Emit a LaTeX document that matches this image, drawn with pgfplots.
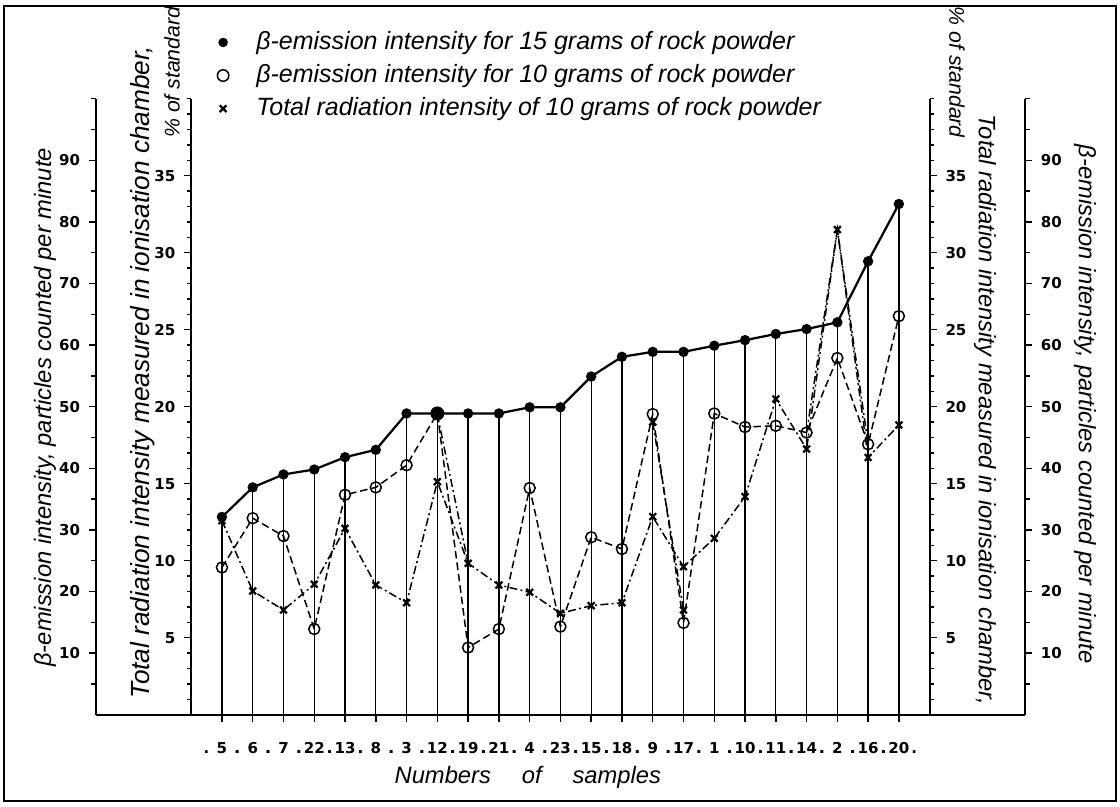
\documentclass[border=0pt]{standalone}
\usepackage{fontspec}
\setmainfont{Liberation Sans}
\newfontfamily\tickfont{DejaVu Sans}
\usepackage{pgfplots}
\pgfplotsset{compat=1.18}
\newcommand{\lab}{\itshape\fontsize{9.5}{11}\selectfont}
\newcommand{\tfont}{\tickfont\bfseries\fontsize{6}{7}\selectfont}
\newcommand{\tl}[1]{\makebox[0pt]{.}\hspace{6.15pt}\makebox[0pt]{#1}\hspace{6.15pt}\makebox[0pt]{.}}

% beta-emission, 15 g (particles/min)
\pgfplotstableread{
x y
0 32.1
1 36.9
2 39.0
3 39.8
4 41.8
5 43.0
6 48.9
7 48.9
8 48.9
9 48.9
10 49.9
11 49.9
12 54.9
13 58.1
14 58.9
15 58.9
16 59.9
17 60.8
18 61.8
19 62.6
20 63.7
21 73.6
22 82.9
}\betafifteen
% beta-emission, 10 g (particles/min)
\pgfplotstableread{
x y
0 23.9
1 31.9
2 29.0
3 13.9
4 35.7
5 36.9
6 40.5
7 48.9
8 10.9
9 13.9
10 36.8
11 14.3
12 28.8
13 26.9
14 48.8
15 14.9
16 48.9
17 46.7
18 46.9
19 45.8
20 57.9
21 43.9
22 64.7
}\betaten
% total radiation, 10 g (% of standard)
\pgfplotstableread{
x y
0 12.6
1 8.03
2 6.8
3 8.47
4 12.1
5 8.42
6 7.27
7 15.13
8 9.83
9 8.42
10 7.95
11 6.58
12 7.08
13 7.27
14 12.86
15 9.61
16 11.45
17 14.16
18 20.5
19 17.25
20 31.5
21 16.7
22 18.81
}\totalrad

\pgfplotsset{
  base/.style={scale only axis, height=246.4pt, ymin=0, clip=false,
    axis line style={line width=0.8pt},
    tick style={line width=0.6pt, black},
    tick align=outside,
    major tick length=2.8pt, minor tick length=1.8pt,
    tick label style={font=\tfont},
    /pgf/number format/assume math mode=true,
  },
  bfif/.style={black, line width=0.9pt, mark=*, mark size=1.6pt},
  bten/.style={black, line width=0.6pt, dash pattern=on 3pt off 1.6pt, mark=o, mark size=2.2pt, mark options={solid, fill=white, line width=0.6pt}},
  trad/.style={black, line width=0.6pt, dash pattern=on 3.2pt off 1.3pt on 0.8pt off 1.3pt, mark=x, mark size=1.9pt, mark options={solid, line width=0.9pt}},
}

\begin{document}
\begin{tikzpicture}
\path[use as bounding box] (-38.32pt,-36.92pt) rectangle (409.68pt,285.88pt);
\draw[line width=1pt] (-36.7pt,-34.5pt) rectangle (408.1pt,283.5pt);

% far-left beta axis, baseline, beta data
\begin{axis}[base, at={(0pt,0pt)}, anchor=south west, width=371.7pt,
  xmin=-4.1, xmax=26.1, ymax=100,
  axis x line*=bottom, axis y line*=left,
  xtick={0,...,22},
  xticklabels={\tl{5},\tl{6},\tl{7},\tl{22},\tl{13},\tl{8},\tl{3},\tl{12},\tl{19},\tl{21},\tl{4},\tl{23},\tl{15},\tl{18},\tl{9},\tl{17},\tl{1},\tl{10},\tl{11},\tl{14},\tl{2},\tl{16},\tl{20}},
  xticklabel style={anchor=base, yshift=-12.7pt},
  ytick={10,20,...,90}, minor ytick={5,15,...,95,100},
  legend cell align=left,
  legend style={draw=none, fill=none, at={(0.1303,1.118)}, anchor=north west,
    inner sep=0pt, row sep=0.5pt, font=\itshape\fontsize{10}{12}\selectfont,
    /tikz/every odd column/.append style={column sep=9pt}},
]
\addlegendimage{only marks, mark=*, mark size=1.7pt}
\addlegendentry{β-emission intensity for 15 grams of rock powder}
\addlegendimage{only marks, mark=o, mark size=2.3pt, mark options={line width=0.6pt}}
\addlegendentry{β-emission intensity for 10 grams of rock powder}
\addlegendimage{only marks, mark=x, mark size=1.9pt, mark options={line width=0.9pt}}
\addlegendentry{Total radiation intensity of 10 grams of rock powder}

\addplot[ycomb, black, line width=0.5pt, no marks, forget plot] table {\betafifteen};
\addplot[bfif, forget plot] table {\betafifteen};
\addplot[only marks, mark=*, mark size=2.6pt, black, forget plot] coordinates {(7,48.9)};
\addplot[bten, forget plot] table {\betaten};

\node[rotate=90, font=\lab] at (axis cs:-5.75,49.9) {β-emission intensity, particles counted per minute};
\node[rotate=90, font=\itshape\fontsize{10.5}{12}\selectfont] at (axis cs:-2.57,55.6) {Total radiation intensity measured in ionisation chamber,};
\node[rotate=90, font=\itshape\fontsize{8.5}{10}\selectfont] at (axis cs:-1.62,104.3) {\% of standard};
\node[rotate=-90, font=\lab] at (axis cs:24.80,49.5) {Total radiation intensity measured in ionisation chamber,};
\node[rotate=-90, font=\itshape\fontsize{8.5}{10}\selectfont] at (axis cs:23.89,104.3) {\% of standard};
\node[rotate=-90, font=\lab] at (axis cs:28.05,50.4) {β-emission intensity, particles counted per minute};
\node[font=\lab] at (axis cs:9.94,-10.1) {Numbers\hspace{1.3em}of\hspace{1.3em}samples};
\end{axis}

% far-right beta axis
\begin{axis}[base, at={(0pt,0pt)}, anchor=south west, width=371.7pt,
  xmin=-4.1, xmax=26.1, ymax=100,
  axis x line=none, axis y line*=right,
  ytick={10,20,...,90}, minor ytick={5,15,...,95,100},
]
\end{axis}

% inner-left total radiation axis and data
\begin{axis}[base, at={(38.155pt,0pt)}, anchor=south west, width=295.4pt,
  xmin=-1, xmax=23, ymax=40,
  axis x line=none, axis y line*=left,
  ytick={5,10,...,35}, minor ytick={1,...,40},
]
\addplot[trad] table {\totalrad};
\addplot[trad, no marks] coordinates {(7,19.5) (8,9.83)};
\addplot[trad] coordinates {(14,19.0) (15,6.8)};
\addplot[trad, no marks] coordinates {(19,18.3) (20,31.5) (21,17.56)};
\end{axis}

% inner-right total radiation axis
\begin{axis}[base, at={(38.155pt,0pt)}, anchor=south west, width=295.4pt,
  xmin=-1, xmax=23, ymax=40,
  axis x line=none, axis y line*=right,
  ytick={5,10,...,35}, minor ytick={1,...,40},
]
\end{axis}
\end{tikzpicture}
\end{document}
